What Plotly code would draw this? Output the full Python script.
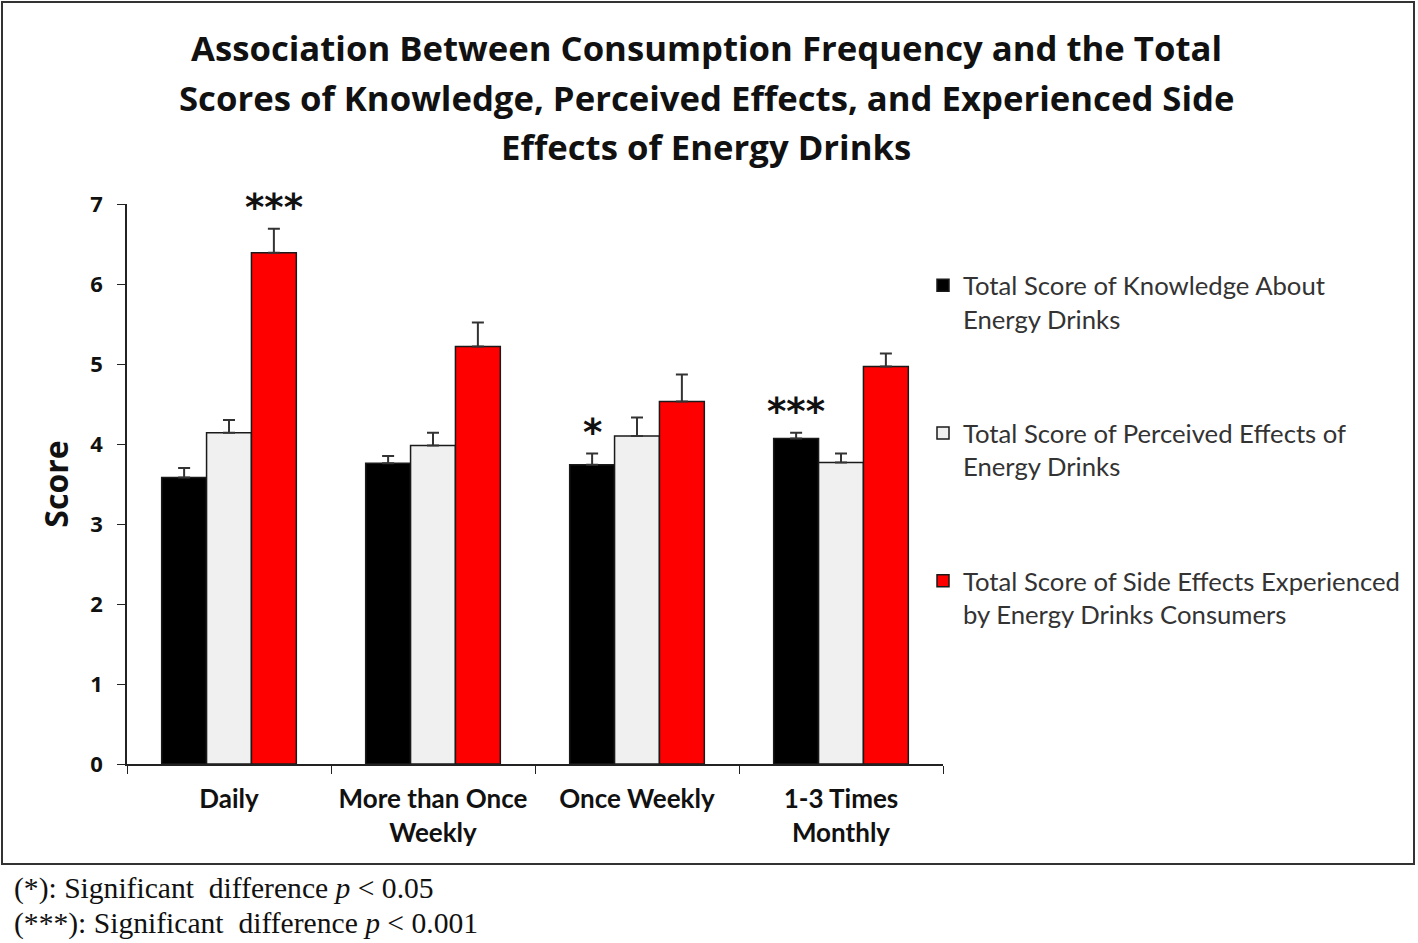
import plotly.graph_objects as go

categories = ["Daily", "More than Once<br>Weekly", "Once Weekly", "1-3 Times<br>Monthly"]
series_names = [
    "Total Score of Knowledge About<br>Energy Drinks",
    "Total Score of Perceived Effects of<br>Energy Drinks",
    "Total Score of Side Effects Experienced<br>by Energy Drinks Consumers",
]
knowledge = [3.58, 3.76, 3.74, 4.07]
knowledge_err = [0.12, 0.09, 0.14, 0.07]
perceived = [4.14, 3.98, 4.10, 3.77]
perceived_err = [0.16, 0.16, 0.23, 0.11]
side_effects = [6.39, 5.22, 4.53, 4.97]
side_effects_err = [0.30, 0.30, 0.34, 0.16]
colors = ["#000000", "#f0f0f0", "#ff0000"]

# significance marks: (category index, series index, label)
sig_marks = [(0, 2, "***"), (2, 0, "*"), (3, 0, "***")]

title_lines = [
    "Association Between Consumption Frequency and the Total",
    "Scores of Knowledge, Perceived Effects, and Experienced Side",
    "Effects of Energy Drinks",
]
footnotes = [
    "(*): Significant  difference <i>p</i> < 0.05",
    "(***): Significant  difference <i>p</i> < 0.001",
]

W, H = 1418, 943
L, R, T, B = 127, 943, 204, 764

fig = go.Figure()
all_vals = [knowledge, perceived, side_effects]
all_errs = [knowledge_err, perceived_err, side_effects_err]
for name, vals, errs, col in zip(series_names, all_vals, all_errs, colors):
    fig.add_trace(go.Bar(
        x=categories, y=vals, name=name,
        marker=dict(color=col, line=dict(color="#1a1a1a", width=1.5)),
        error_y=dict(type="data", symmetric=False, array=errs,
                     arrayminus=[0] * len(errs), color="#333333",
                     thickness=2, width=6),
        legendgroup=name,
    ))

# bar geometry for annotations: group of 3 bars, bargap
bargap = 0.34
cat_px = (R - L) / len(categories)
bar_px = cat_px * (1 - bargap) / 3
for ci, si, label in sig_marks:
    val = all_vals[si][ci] + all_errs[si][ci]
    fig.add_annotation(
        x=categories[ci], y=val, xref="x", yref="y",
        xshift=(si - 1) * bar_px, yshift=-2,
        text=f"<b>{label}</b>", showarrow=False, yanchor="bottom",
        font=dict(family="DejaVu Sans", size=37, color="#111111"),
    )

def px_to_paper_x(px):
    return (px - L) / (R - L)

def px_to_paper_y(py):
    return (B - py) / (B - T)

title_y = [47, 97, 147]
for line, ty in zip(title_lines, title_y):
    fig.add_annotation(
        x=px_to_paper_x(706), y=px_to_paper_y(ty), xref="paper", yref="paper",
        text=f"<b>{line}</b>", showarrow=False, xanchor="center", yanchor="middle",
        font=dict(family="Open Sans", size=34.7, color="#111111"),
    )

foot_y = [888, 923]
for line, fy in zip(footnotes, foot_y):
    fig.add_annotation(
        x=px_to_paper_x(12), y=px_to_paper_y(fy), xref="paper", yref="paper",
        text=line, showarrow=False, xanchor="left", yanchor="middle",
        font=dict(family="Liberation Serif", size=29.6, color="#111111"),
    )

# outer frame
fig.add_shape(type="rect", xref="paper", yref="paper",
              x0=px_to_paper_x(2), x1=px_to_paper_x(1414),
              y0=px_to_paper_y(864), y1=px_to_paper_y(2),
              line=dict(color="#333333", width=2), layer="below")

fig.update_layout(
    width=W, height=H,
    margin=dict(l=L, r=W - R, t=T, b=H - B, autoexpand=False),
    paper_bgcolor="white", plot_bgcolor="white",
    barmode="group", bargap=bargap, bargroupgap=0,
    showlegend=True,
    legend=dict(
        x=px_to_paper_x(923), y=px_to_paper_y(262), xanchor="left", yanchor="top",
        font=dict(family="Lato", size=25.7, color="#333333"),
        valign="top", tracegroupgap=78, bgcolor="rgba(0,0,0,0)",
        itemclick=False, itemdoubleclick=False,
    ),
    xaxis=dict(
        showline=True, linecolor="#222222", linewidth=1.5,
        ticks="outside", tickson="boundaries", ticklen=8, tickcolor="#222222",
        tickfont=dict(family="Lato", size=26, color="#111111"),
        ticklabelstandoff=11,
        showgrid=False,
    ),
    yaxis=dict(
        range=[0, 7], dtick=1, showline=True, linecolor="#222222", linewidth=1.5,
        ticks="outside", ticklen=8, tickcolor="#222222",
        tickfont=dict(family="Open Sans", size=22, color="#111111"),
        ticklabelstandoff=10,
        showgrid=False, zeroline=False,
        title=dict(text="<b>Score</b>", font=dict(family="Open Sans", size=32, color="#111111"),
                   standoff=12),
    ),
)
fig.update_xaxes(tickprefix="<b>", ticksuffix="</b>")
fig.update_yaxes(tickprefix="<b>", ticksuffix="</b>")

fig.write_html("out.html", config={"displayModeBar": False},
               post_script="document.body.style.margin='0';document.body.style.overflow='hidden';")
